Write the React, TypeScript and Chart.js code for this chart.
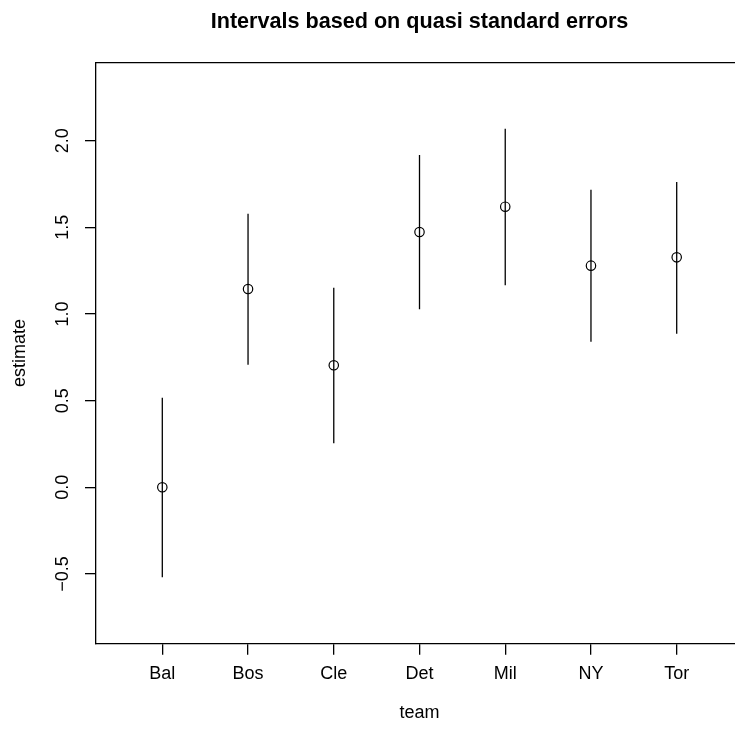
import React, { useEffect, useRef } from "react";
import { Chart, registerables } from "chart.js";

Chart.register(...registerables);

const teams = ["Bal", "Bos", "Cle", "Det", "Mil", "NY", "Tor"];
const estimates = [0, 1.144, 0.704, 1.473, 1.619, 1.279, 1.327];
const lowerLimits = [-0.519, 0.707, 0.254, 1.027, 1.166, 0.84, 0.886];
const upperLimits = [0.517, 1.579, 1.152, 1.917, 2.069, 1.717, 1.762];
const yTickValues = [-0.5, 0, 0.5, 1.0, 1.5, 2.0];
const yTickLabels = ["\u22120.5", "0.0", "0.5", "1.0", "1.5", "2.0"];
const titleText = "Intervals based on quasi standard errors";
const xTitleText = "team";
const yTitleText = "estimate";

const FONT = '"Liberation Sans", Arial, Helvetica, sans-serif';

export default function App() {
  const ref = useRef<HTMLCanvasElement | null>(null);

  useEffect(() => {
    document.body.style.margin = "0";
    const canvas = ref.current;
    if (!canvas) return;

    const textPlugin = {
      id: "rText",
      afterDraw(chart: any) {
        const ctx = chart.ctx;
        const xs = chart.scales.x;
        const ys = chart.scales.y;
        const area = chart.chartArea;
        const cx = xs.getPixelForValue((teams.length - 1) / 2);
        ctx.save();
        // frame top line
        ctx.strokeStyle = "#000";
        ctx.lineWidth = 1.3;
        ctx.beginPath();
        ctx.moveTo(area.left, area.top);
        ctx.lineTo(chart.width, area.top);
        ctx.stroke();

        ctx.fillStyle = "#000";
        // title
        ctx.font = `bold 21.6px ${FONT}`;
        ctx.textAlign = "center";
        ctx.textBaseline = "middle";
        ctx.fillText(titleText, cx, 22);
        // x title
        ctx.font = `18px ${FONT}`;
        ctx.fillText(xTitleText, cx, 713);
        // y title
        const cy = (area.top + area.bottom) / 2;
        ctx.save();
        ctx.translate(20, cy);
        ctx.rotate(-Math.PI / 2);
        ctx.fillText(yTitleText, 0, 0);
        ctx.restore();
        // y tick labels
        yTickValues.forEach((v, i) => {
          const py = ys.getPixelForValue(v);
          ctx.save();
          ctx.translate(63, py);
          ctx.rotate(-Math.PI / 2);
          ctx.fillText(yTickLabels[i], 0, 0);
          ctx.restore();
        });
        ctx.restore();
      },
    };

    const intervalSets = teams.map((t, i) => ({
      label: t + " interval",
      data: [
        { x: i, y: lowerLimits[i] },
        { x: i, y: upperLimits[i] },
      ],
      showLine: true,
      borderColor: "#000",
      borderWidth: 1.3,
      pointRadius: 0,
      pointHoverRadius: 0,
    }));

    const chart = new Chart(canvas, {
      type: "scatter",
      data: {
        datasets: [
          ...intervalSets,
          {
            label: "estimate",
            data: estimates.map((y, i) => ({ x: i, y })),
            showLine: false,
            pointStyle: "circle",
            pointRadius: 4.7,
            pointBorderWidth: 1.2,
            borderColor: "#000",
            backgroundColor: "rgba(0,0,0,0)",
          } as any,
        ],
      },
      options: {
        responsive: false,
        animation: false,
        devicePixelRatio: 1,
        layout: { autoPadding: false, padding: { top: 62.7, right: 0, left: 0, bottom: 0 } },
        plugins: {
          legend: { display: false },
          tooltip: { enabled: false },
          title: { display: false },
        },
        scales: {
          x: {
            type: "linear",
            min: -0.7734,
            max: 6.68,
            afterBuildTicks: (s: any) => {
              s.ticks = teams.map((_, i) => ({ value: i }));
            },
            afterFit: (s: any) => {
              s.height = 89.7;
              s.paddingLeft = 0;
              s.paddingRight = 0;
            },
            ticks: {
              callback: (v: any) => teams[Math.round(Number(v))] ?? "",
              color: "#000",
              font: { family: FONT, size: 18 },
              padding: 8.5,
              maxRotation: 0,
              minRotation: 0,
              autoSkip: false,
            },
            grid: {
              drawOnChartArea: false,
              drawTicks: true,
              tickLength: 11.5,
              color: "#000",
              lineWidth: 1.3,
            },
            border: { display: true, color: "#000", width: 1.3 },
          },
          y: {
            type: "linear",
            min: -0.9,
            max: 2.45,
            afterBuildTicks: (s: any) => {
              s.ticks = yTickValues.map((v) => ({ value: v }));
            },
            afterFit: (s: any) => {
              s.width = 96;
              s.paddingTop = 0;
              s.paddingBottom = 0;
            },
            ticks: { display: false },
            grid: {
              drawOnChartArea: false,
              drawTicks: true,
              tickLength: 11,
              color: "#000",
              lineWidth: 1.3,
            },
            border: { display: true, color: "#000", width: 1.3 },
          },
        },
      },
      plugins: [textPlugin],
    });

    return () => chart.destroy();
  }, []);

  return (
    <div style={{ position: "absolute", left: 0, top: 0, width: 735, height: 733, background: "#fff" }}>
      <canvas ref={ref} width={735} height={733} style={{ display: "block", width: 735, height: 733 }} />
    </div>
  );
}
